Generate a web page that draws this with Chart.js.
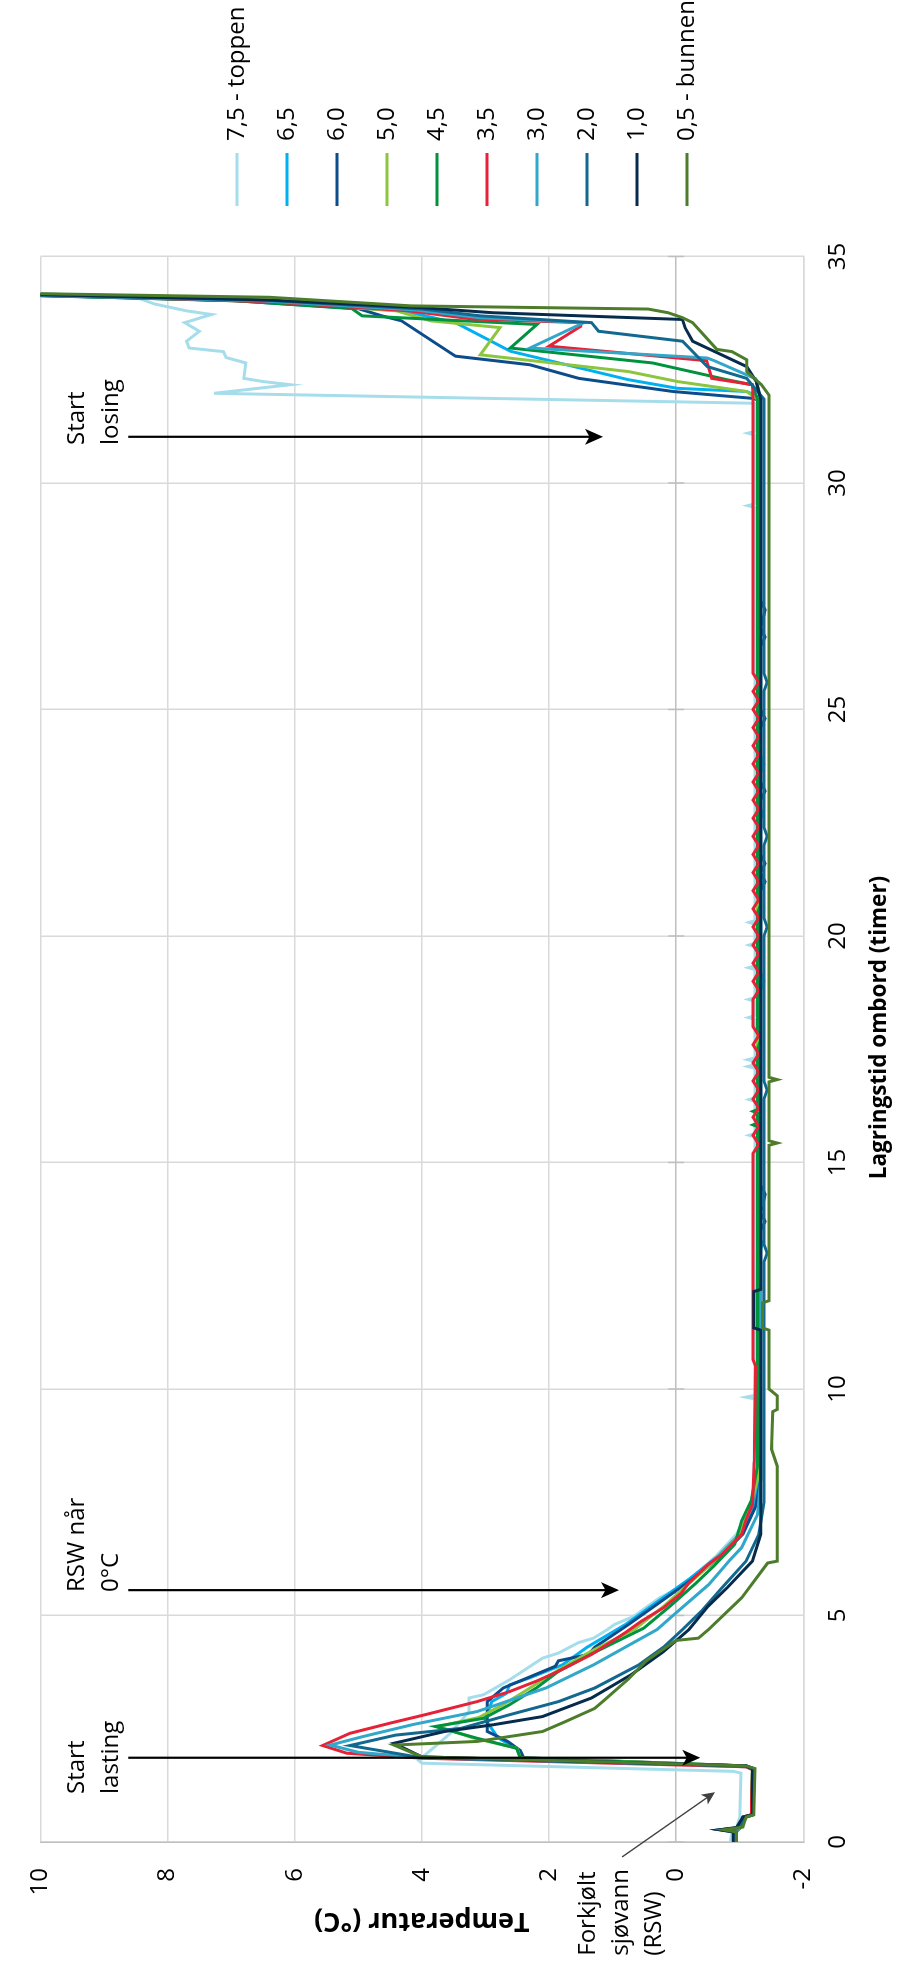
<!DOCTYPE html>
<html>
<head>
<meta charset="utf-8">
<script src="https://cdn.jsdelivr.net/npm/chart.js@4.4.1/dist/chart.umd.min.js"></script>
<style>
  html, body { margin: 0; padding: 0; background: #fff; overflow: hidden; }
  /* the chart is drawn lying down and turned a quarter turn, like the original */
  #wrap { position: absolute; left: 0; top: 0; width: 1973px; height: 901px;
          transform-origin: 0 0; transform: translateY(1973px) rotate(-90deg); }
</style>
</head>
<body>
<div id="wrap"><canvas id="chart" width="1973" height="901"></canvas></div>
<script>
// sensor depth (m) and colour of each series
const seriesLabels = ['7,5 - toppen', '6,5', '6,0', '5,0', '4,5', '3,5', '3,0', '2,0', '1,0', '0,5 - bunnen'];
const seriesColors = ['#A6DDEB', '#00B0F0', '#0D4C8B', '#8CC63F', '#00923F', '#E52238', '#31A8C9', '#13688F', '#072B4C', '#4D7D2B'];

// [storage time (h), temperature (°C)]
const s75 = [
  [0, -0.85], [0.22, -0.88], [0.3, -0.95], [0.55, -1.0], [1.52, -1.02],
  [1.56, -0.9], [1.74, 4.0], [1.8, 4.05], [2.4, 3.55], [2.88, 3.26], [3.18, 3.26], [3.25, 3.03], [3.58, 2.62],
  [4.06, 2.1], [4.17, 1.85], [4.4, 1.54], [4.5, 1.3], [4.69, 1.08], [4.8, 0.97], [4.98, 0.67], [5.39, 0.26],
  [5.61, -0.05], [5.9, -0.3], [6.3, -0.62], [6.8, -0.95], [7.3, -1.15], [7.8, -1.22],
  [9.78, -1.24], [9.82, -1.1], [9.86, -1.24], [15.56, -1.24], [15.6, -1.15], [15.64, -1.24],
  [16.35, -1.24], [16.39, -1.15], [16.43, -1.24], [17.08, -1.24], [17.12, -1.13], [17.16, -1.24],
  [17.23, -1.24], [17.27, -1.13], [17.31, -1.24], [18.16, -1.24], [18.2, -1.14], [18.24, -1.24],
  [18.56, -1.24], [18.6, -1.14], [18.64, -1.24], [19.26, -1.24], [19.3, -1.14], [19.34, -1.24],
  [19.76, -1.24], [19.8, -1.15], [19.84, -1.24], [20.26, -1.24], [20.3, -1.15], [20.34, -1.24],
  [29.46, -1.24], [29.5, -1.13], [29.54, -1.24], [31.06, -1.24], [31.1, -1.13], [31.14, -1.24], [31.76, -1.24],
  [31.98, 7.27], [32.17, 6.07], [32.24, 6.5], [32.31, 6.8], [32.65, 6.77], [32.77, 7.08], [32.9, 7.12],
  [32.98, 7.66], [33.13, 7.7], [33.35, 7.5], [33.54, 7.73], [33.72, 7.31], [33.8, 7.7], [33.95, 8.2],
  [34.1, 8.5], [34.18, 10.0], [34.22, 11]
];
const s65 = [
  [0, -0.95], [0.22, -0.95], [0.3, -1.0], [0.55, -1.05], [0.6, -1.18], [1.6, -1.2],
  [1.66, -1.1], [1.86, 2.45], [2.05, 2.5], [2.3, 2.8], [2.7, 3.0], [3.1, 2.9], [3.28, 2.67], [3.47, 2.62],
  [3.62, 2.31], [3.91, 1.79], [4.3, 1.4], [4.8, 0.8], [5.3, 0.3], [5.8, -0.2], [6.3, -0.65], [6.8, -1.0],
  [7.3, -1.2], [8.0, -1.3],
  [13.0, -1.3], [13.2, -1.36], [13.4, -1.3], [21.0, -1.3], [21.2, -1.36], [21.4, -1.3], [22.5, -1.3],
  [22.7, -1.36], [22.9, -1.3], [26.5, -1.3], [26.7, -1.36], [26.9, -1.3], [31.9, -1.3],
  [32.02, -1.11], [32.09, -0.02], [32.28, 0.75], [32.91, 2.61], [33.54, 3.47], [33.8, 4.3], [34.02, 6.7],
  [34.12, 9.4], [34.19, 11.5]
];
const s60 = [
  [0, -0.95], [0.22, -0.95], [0.27, -0.7], [0.32, -1.0], [0.55, -1.1], [0.6, -1.2], [1.62, -1.22],
  [1.68, -1.1], [1.86, 2.4], [2.02, 2.45], [2.22, 2.65], [2.44, 2.97], [3.1, 2.97], [3.4, 2.72], [3.88, 1.9],
  [4.0, 1.85], [4.14, 1.38], [4.3, 1.28], [4.8, 0.75], [5.3, 0.25], [5.8, -0.25], [6.3, -0.7], [6.8, -1.05],
  [7.4, -1.25], [8.0, -1.33],
  [13.5, -1.33], [13.7, -1.4], [13.9, -1.33], [14.3, -1.4], [14.5, -1.33], [21.0, -1.33], [21.2, -1.4],
  [21.4, -1.33], [21.6, -1.4], [21.8, -1.33], [23.0, -1.33], [23.2, -1.4], [23.4, -1.33], [24.6, -1.33],
  [24.8, -1.4], [25.0, -1.33], [26.4, -1.33], [26.6, -1.4], [26.8, -1.33], [27.2, -1.4], [27.4, -1.33],
  [31.82, -1.33],
  [31.87, -1.19], [32.02, 0.05], [32.31, 1.53], [32.61, 2.3], [32.8, 3.47], [32.9, 3.58], [33.58, 4.32],
  [33.69, 4.63], [33.85, 5.0], [34.03, 7.0], [34.12, 9.6], [34.19, 11.5]
];
const s50 = [
  [0, -0.95], [0.25, -0.92], [0.3, -1.0], [0.55, -1.05], [0.6, -1.18], [1.62, -1.2],
  [1.68, -1.1], [1.86, 2.45], [2.07, 2.5], [2.3, 3.2], [2.55, 3.74], [2.75, 3.1], [3.05, 2.7], [3.4, 2.3],
  [3.8, 1.85], [4.2, 1.35], [4.7, 0.65], [5.2, 0.2], [5.7, -0.2], [6.2, -0.6], [6.7, -0.95], [7.3, -1.15],
  [8.0, -1.28],
  [12.4, -1.28], [12.6, -1.33], [12.8, -1.28], [19.0, -1.28], [19.2, -1.33], [19.4, -1.28], [24.2, -1.28],
  [24.4, -1.33], [24.6, -1.28], [31.85, -1.28],
  [32.02, -1.11], [32.24, -0.02], [32.46, 0.75], [32.83, 3.08], [33.43, 2.77], [33.58, 3.86], [33.8, 4.4],
  [34.02, 6.6], [34.12, 9.3], [34.19, 11.5]
];
const s45 = [
  [0, -0.95], [0.25, -0.9], [0.3, -1.0], [0.55, -1.05], [0.6, -1.18], [1.62, -1.2],
  [1.68, -1.1], [1.85, 2.45], [2.07, 2.51], [2.29, 3.13], [2.55, 3.79], [2.73, 3.03], [3.03, 2.62], [3.4, 2.2],
  [3.77, 1.85], [4.14, 1.35], [4.72, 0.51], [5.2, 0.1], [5.7, -0.3], [6.1, -0.6], [6.57, -0.92], [7.09, -1.03],
  [7.53, -1.18], [8.3, -1.28],
  [15.79, -1.28], [15.83, -1.21], [15.87, -1.28], [16.09, -1.28], [16.13, -1.21], [16.17, -1.28],
  [17.5, -1.28], [17.7, -1.33], [17.9, -1.28], [20.5, -1.28], [20.7, -1.33], [20.9, -1.28], [31.85, -1.28],
  [32.17, -1.19], [32.28, -0.8], [32.65, 0.37], [32.98, 2.61], [33.5, 2.19], [33.69, 4.94], [33.85, 5.1],
  [34.02, 6.9], [34.12, 9.5], [34.19, 11.5]
];
const s35 = [
  [0, -0.95], [0.25, -0.9], [0.3, -1.0], [0.55, -1.05], [0.6, -1.18], [1.6, -1.2],
  [1.66, -1.1], [1.85, 4.0], [1.96, 5.18], [2.13, 5.56], [2.4, 5.13], [2.62, 4.51], [2.81, 3.95], [3.1, 3.13],
  [3.32, 2.62], [3.55, 2.2], [3.77, 1.85], [4.14, 1.33], [4.65, 0.77], [4.87, 0.55], [5.17, 0.2], [5.49, -0.08],
  [5.72, -0.2], [6.13, -0.51], [6.35, -0.72], [6.79, -1.03], [7.12, -1.1], [7.45, -1.2], [8.4, -1.23],
  [10.5, -1.25], [10.65, -1.21], [15.2, -1.21],
  [15.4, -1.3], [15.6, -1.21], [15.8, -1.3], [16.0, -1.21], [16.2, -1.3], [16.4, -1.21], [16.6, -1.3],
  [16.8, -1.21], [17.0, -1.3], [17.2, -1.21], [17.4, -1.3], [17.6, -1.21], [17.8, -1.3], [18.0, -1.21],
  [18.6, -1.21], [18.8, -1.3], [19.0, -1.21], [19.2, -1.3], [19.4, -1.21], [19.6, -1.3], [19.8, -1.21],
  [20.0, -1.3], [20.2, -1.21], [20.4, -1.3], [20.6, -1.21], [20.8, -1.3], [21.0, -1.21], [21.2, -1.3],
  [21.4, -1.21], [21.6, -1.3], [21.8, -1.21], [22.0, -1.3], [22.2, -1.21], [22.4, -1.3], [22.6, -1.21],
  [22.8, -1.3], [23.0, -1.21], [23.2, -1.3], [23.4, -1.21], [23.6, -1.3], [23.8, -1.21], [24.0, -1.3],
  [24.2, -1.21], [24.4, -1.3], [24.6, -1.21], [24.8, -1.3], [25.0, -1.21], [25.2, -1.3], [25.4, -1.21],
  [25.6, -1.3], [25.8, -1.21], [31.8, -1.21],
  [32.17, -1.2], [32.31, -0.56], [32.7, -0.48], [33.02, 2.0], [33.46, 1.5], [33.54, 1.5], [33.62, 3.2],
  [33.8, 4.2], [34.0, 6.4], [34.12, 9.2], [34.2, 11.5]
];
const s30 = [
  [0, -0.95], [0.25, -0.9], [0.3, -1.0], [0.55, -1.1], [0.6, -1.2], [1.62, -1.22],
  [1.68, -1.1], [1.86, 4.0], [1.98, 5.0], [2.14, 5.44], [2.33, 4.92], [2.59, 4.15], [2.88, 3.13], [3.4, 2.05],
  [3.91, 1.3], [4.3, 0.8], [4.69, 0.3], [5.0, 0.05], [5.68, -0.51], [6.23, -0.85], [6.5, -1.03], [7.23, -1.28],
  [8.0, -1.33],
  [14.0, -1.33], [14.2, -1.38], [14.4, -1.33], [18.8, -1.33], [19.0, -1.38], [19.2, -1.33], [23.6, -1.33],
  [23.8, -1.38], [24.0, -1.33], [31.85, -1.33],
  [32.3, -1.25], [32.7, -0.6], [32.76, -0.49], [32.98, 2.3], [33.54, 1.45], [33.65, 3.1], [33.82, 4.1],
  [34.02, 6.5], [34.12, 9.3], [34.2, 11.5]
];
const s20 = [
  [0, -0.95], [0.22, -0.95], [0.27, -0.72], [0.32, -1.0], [0.55, -1.1], [0.6, -1.2], [1.62, -1.22],
  [1.68, -1.1], [1.86, 4.0], [2.13, 5.13], [2.36, 4.41], [2.51, 3.38], [2.81, 2.62], [3.1, 1.85], [3.4, 1.28],
  [3.9, 0.6], [4.3, 0.2], [4.69, -0.1], [5.1, -0.4], [5.61, -0.72], [6.2, -1.1], [6.79, -1.3], [7.5, -1.38],
  [12.8, -1.38], [13.0, -1.43], [13.2, -1.38], [16.4, -1.38], [16.6, -1.43], [16.8, -1.38], [20.0, -1.38],
  [20.2, -1.43], [20.4, -1.38], [22.0, -1.38], [22.2, -1.43], [22.4, -1.38], [25.4, -1.38], [25.6, -1.43],
  [25.8, -1.38], [31.85, -1.38],
  [32.31, -1.11], [32.57, -0.49], [33.13, -0.1], [33.35, 1.22], [33.54, 1.33], [33.69, 3.08], [33.84, 4.0],
  [34.03, 6.4], [34.13, 9.3], [34.2, 11.5]
];
const s10 = [
  [0, -0.9], [0.22, -0.9], [0.27, -0.68], [0.32, -0.95], [0.55, -1.05], [0.6, -1.2], [1.62, -1.2],
  [1.68, -1.1], [1.88, 4.0], [2.18, 4.44], [2.44, 3.64], [2.59, 2.87], [2.77, 2.1], [3.18, 1.33], [3.7, 0.7],
  [4.2, 0.2], [4.69, -0.2], [5.2, -0.5], [5.61, -0.8], [6.2, -1.2], [6.79, -1.33],
  [11.3, -1.33], [11.35, -1.22], [12.15, -1.22], [12.2, -1.33], [31.85, -1.33],
  [32.24, -1.26], [32.57, -1.11], [33.13, -0.26], [33.43, -0.14], [33.61, -0.1], [33.76, 2.9], [33.87, 4.0],
  [34.04, 6.4], [34.14, 9.4], [34.2, 11.5]
];
const s05 = [
  [0, -0.95], [0.22, -0.95], [0.27, -0.75], [0.33, -1.05], [0.55, -1.1], [0.6, -1.22], [1.62, -1.24],
  [1.68, -1.1], [1.88, 4.0], [2.14, 4.44], [2.22, 3.13], [2.44, 2.1], [2.66, 1.74], [2.95, 1.28], [3.13, 1.13],
  [3.6, 0.75], [4.0, 0.47], [4.45, 0.0], [4.5, -0.35], [4.69, -0.51], [5.39, -1.03], [6.16, -1.44], [6.2, -1.59],
  [8.3, -1.59], [8.67, -1.5], [9.5, -1.52], [9.55, -1.59], [9.85, -1.59], [10.0, -1.46], [11.3, -1.46],
  [11.35, -1.36], [11.9, -1.36], [11.95, -1.46], [15.38, -1.46], [15.43, -1.59], [15.48, -1.46],
  [16.78, -1.46], [16.83, -1.59], [16.88, -1.46], [31.94, -1.46],
  [32.17, -1.34], [32.46, -1.11], [32.72, -1.11], [32.9, -0.88], [32.95, -0.64], [33.54, -0.26], [33.65, -0.1],
  [33.76, 0.13], [33.84, 0.44], [33.91, 4.17], [34.1, 6.4], [34.17, 9.6], [34.22, 11.5]
];
const series = [s75, s65, s60, s50, s45, s35, s30, s20, s10, s05];

// axis ticks
const timeTicks = { min: 0, max: 35, step: 5 };
const tempTicks = { min: -2, max: 10, step: 2 };

// time-axis title sits a little off the middle of the axis in the original
const timeTitle = 'Lagringstid ombord (timer)';
const timeTitleAt = 17.98;

// arrow notes: text lines, where the text starts (h), arrow time (h), arrow from/to (°C)
const noteLines = [['Start', 'lasting'], ['RSW når', '0°C'], ['Start', 'losing']];
const noteTextAt = [1.06, 5.52, 30.84];
const noteArrowAt = [1.86, 5.56, 31.02];
const noteArrowFrom = [8.62, 8.62, 8.62];
const noteArrowTo = [-0.38, 0.9, 1.15];
const noteBaseline = 9.31;

// the precooled seawater note with its thin arrow
const rswLines = ['Forkjølt', 'sjøvann', '(RSW)'];
const rswTextAt = -2.51;
const rswBaseline = 1.27;
const rswArrow = [[-0.33, 0.85], [1.10, -0.61]];

const FONT = "'Open Sans', sans-serif";

function drawArrow(ctx, x1, y1, x2, y2, len, half, width, color) {
  const a = Math.atan2(y2 - y1, x2 - x1);
  const c = Math.cos(a), s = Math.sin(a);
  ctx.strokeStyle = color;
  ctx.fillStyle = color;
  ctx.lineWidth = width;
  ctx.beginPath();
  ctx.moveTo(x1, y1);
  ctx.lineTo(x2 - c * len * 0.7, y2 - s * len * 0.7);
  ctx.stroke();
  ctx.beginPath();
  ctx.moveTo(x2, y2);
  ctx.lineTo(x2 - c * len - s * half, y2 - s * len + c * half);
  ctx.lineTo(x2 - c * len * 0.75, y2 - s * len * 0.75);
  ctx.lineTo(x2 - c * len + s * half, y2 - s * len - c * half);
  ctx.closePath();
  ctx.fill();
}

const notesPlugin = {
  id: 'notes',
  beforeDatasetsDraw(chart) {
    // cross tick marks: the time axis crosses at 0 °C
    const { ctx, scales: { x, y } } = chart;
    const y0 = y.getPixelForValue(0);
    ctx.save();
    ctx.strokeStyle = '#bfbfbf';
    ctx.lineWidth = 1.5;
    x.ticks.forEach(t => {
      const px = x.getPixelForValue(t.value);
      ctx.beginPath();
      ctx.moveTo(px, y0 - 8);
      ctx.lineTo(px, y0 + 8);
      ctx.stroke();
    });
    ctx.restore();
  },
  afterDatasetsDraw(chart) {
    const { ctx, scales: { x, y } } = chart;
    ctx.save();
    ctx.fillStyle = '#000';

    ctx.font = 'bold 22.5px ' + FONT;
    ctx.textAlign = 'center';
    ctx.textBaseline = 'middle';
    ctx.fillText(timeTitle, x.getPixelForValue(timeTitleAt), x.bottom - 21);

    ctx.font = '24px ' + FONT;
    ctx.textAlign = 'left';
    ctx.textBaseline = 'alphabetic';
    noteLines.forEach((lines, i) => {
      const tx = x.getPixelForValue(noteTextAt[i]);
      const ty = y.getPixelForValue(noteBaseline);
      ctx.fillStyle = '#000';
      lines.forEach((line, j) => ctx.fillText(line, tx, ty + j * 34));
      const ax = x.getPixelForValue(noteArrowAt[i]);
      drawArrow(ctx, ax, y.getPixelForValue(noteArrowFrom[i]), ax, y.getPixelForValue(noteArrowTo[i]), 18, 8, 2.2, '#000');
    });
    const rx = x.getPixelForValue(rswTextAt);
    const ry = y.getPixelForValue(rswBaseline);
    ctx.fillStyle = '#000';
    rswLines.forEach((line, j) => ctx.fillText(line, rx, ry + j * 33));
    drawArrow(ctx,
      x.getPixelForValue(rswArrow[0][0]), y.getPixelForValue(rswArrow[0][1]),
      x.getPixelForValue(rswArrow[1][0]), y.getPixelForValue(rswArrow[1][1]),
      13, 6, 1.4, '#404040');
    ctx.restore();
  }
};

Chart.defaults.font.family = FONT;
Chart.defaults.font.size = 24;
Chart.defaults.color = '#000';

const ctx = document.getElementById('chart').getContext('2d');
new Chart(ctx, {
  type: 'line',
  data: {
    datasets: series.map((pts, i) => ({
      label: seriesLabels[i],
      data: pts.map(p => ({ x: p[0], y: p[1] })),
      borderColor: seriesColors[i],
      backgroundColor: seriesColors[i],
      borderWidth: 3,
      pointRadius: 0,
      tension: 0,
      order: series.length - i
    }))
  },
  options: {
    responsive: false,
    animation: false,
    devicePixelRatio: 1,
    layout: { padding: { top: 23, right: 0, bottom: 0, left: 0 } },
    plugins: {
      tooltip: { enabled: false },
      legend: {
        position: 'right',
        align: 'center',
        maxWidth: 232,
        labels: {
          boxWidth: 53,
          boxHeight: 3,
          padding: 26,
          color: '#000',
          font: { family: FONT, size: 24 },
          sort: (a, b) => a.datasetIndex - b.datasetIndex,
          generateLabels(chart) {
            const items = Chart.defaults.plugins.legend.labels.generateLabels(chart);
            items.forEach(it => { it.lineWidth = 0; });
            return items;
          }
        }
      }
    },
    scales: {
      x: {
        type: 'linear',
        min: timeTicks.min,
        max: timeTicks.max,
        ticks: { stepSize: timeTicks.step, padding: 20, color: '#000', font: { size: 24 } },
        grid: { color: '#d9d9d9', lineWidth: 1.5, drawTicks: false },
        border: { color: '#d9d9d9', width: 1.5 },
        title: { display: false },
        afterFit(scale) { scale.height = 97.7; }
      },
      y: {
        type: 'linear',
        min: tempTicks.min,
        max: tempTicks.max,
        ticks: { stepSize: tempTicks.step, padding: 26, color: '#000', font: { size: 24 } },
        grid: {
          color: c => (c.tick && c.tick.value === 0 ? '#bfbfbf' : '#d9d9d9'),
          lineWidth: 1.5,
          drawTicks: false
        },
        border: { color: '#bfbfbf', width: 1.5 },
        title: {
          display: true,
          text: 'Temperatur (°C)',
          color: '#000',
          font: { size: 27, weight: 'bold' },
          padding: { top: 36, bottom: 0 }
        },
        afterFit(scale) { scale.width = 131; }
      },
      // empty strip between the plot and the legend
      gap: {
        type: 'linear',
        axis: 'y',
        position: 'right',
        ticks: { display: false },
        grid: { display: false, drawTicks: false },
        border: { display: false },
        afterFit(scale) { scale.width = 24.5; }
      }
    }
  },
  plugins: [notesPlugin]
});
</script>
</body>
</html>
